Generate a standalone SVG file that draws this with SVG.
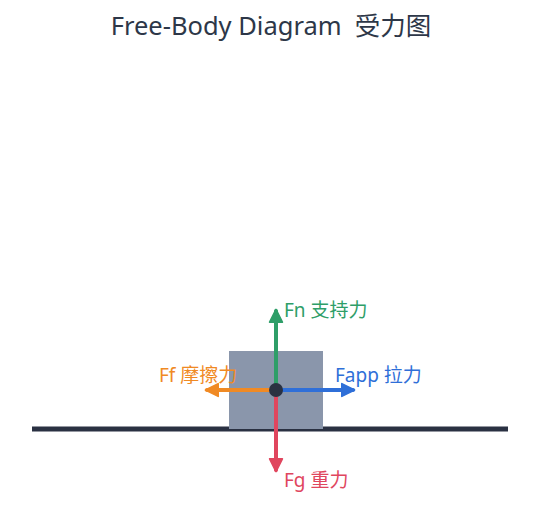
<svg xmlns="http://www.w3.org/2000/svg" width="541" height="510" viewBox="0 0 541 510">
<style>
text{font-family:"Noto Sans","Noto Sans CJK SC",sans-serif}
.t{font-size:25.5px;fill:#2d3748;white-space:pre}
.l{font-size:19px}
.a{stroke-width:4;fill:none;stroke-linecap:round}
</style>
<defs>
<marker id="mg" viewBox="0 0 10 10" refX="8" refY="5" markerWidth="4" markerHeight="4" orient="auto" markerUnits="strokeWidth"><path d="M1,1 L9,5 L1,9 Z" fill="#2e9e68" stroke="#2e9e68" stroke-linejoin="round"/></marker>
<marker id="mr" viewBox="0 0 10 10" refX="8" refY="5" markerWidth="4" markerHeight="4" orient="auto" markerUnits="strokeWidth"><path d="M1,1 L9,5 L1,9 Z" fill="#e0465e" stroke="#e0465e" stroke-linejoin="round"/></marker>
<marker id="mb" viewBox="0 0 10 10" refX="8" refY="5" markerWidth="4" markerHeight="4" orient="auto" markerUnits="strokeWidth"><path d="M1,1 L9,5 L1,9 Z" fill="#2f6fd8" stroke="#2f6fd8" stroke-linejoin="round"/></marker>
<marker id="mo" viewBox="0 0 10 10" refX="8" refY="5" markerWidth="4" markerHeight="4" orient="auto" markerUnits="strokeWidth"><path d="M1,1 L9,5 L1,9 Z" fill="#f08a24" stroke="#f08a24" stroke-linejoin="round"/></marker>
</defs>
<text class="t" x="271" y="35" text-anchor="middle" xml:space="preserve">Free-Body Diagram  受力图</text>
<g id="ground"><line x1="32" y1="429" x2="508" y2="429" stroke="#2a3142" stroke-width="5"/></g>
<g id="block"><rect x="229" y="351" width="94" height="78" fill="#8a96ab"/></g>
<g id="connectors">
<line class="a" x1="276" y1="390" x2="276" y2="311" stroke="#2e9e68" marker-end="url(#mg)"/>
<line class="a" x1="276" y1="390" x2="276" y2="470" stroke="#e0465e" marker-end="url(#mr)"/>
<line class="a" x1="276" y1="390" x2="353" y2="390" stroke="#2f6fd8" marker-end="url(#mb)"/>
<line class="a" x1="276" y1="390" x2="207" y2="390" stroke="#f08a24" marker-end="url(#mo)"/>
</g>
<g id="center"><circle cx="276" cy="390" r="7" fill="#2a3142"/></g>
<g id="labels">
<text class="l" x="284" y="317" fill="#2e9e68">Fn 支持力</text>
<text class="l" x="335" y="382" fill="#2f6fd8">Fapp 拉力</text>
<text class="l" x="159" y="382" fill="#f08a24">Ff 摩擦力</text>
<text class="l" x="284" y="487" fill="#e0465e">Fg 重力</text>
</g>
</svg>
